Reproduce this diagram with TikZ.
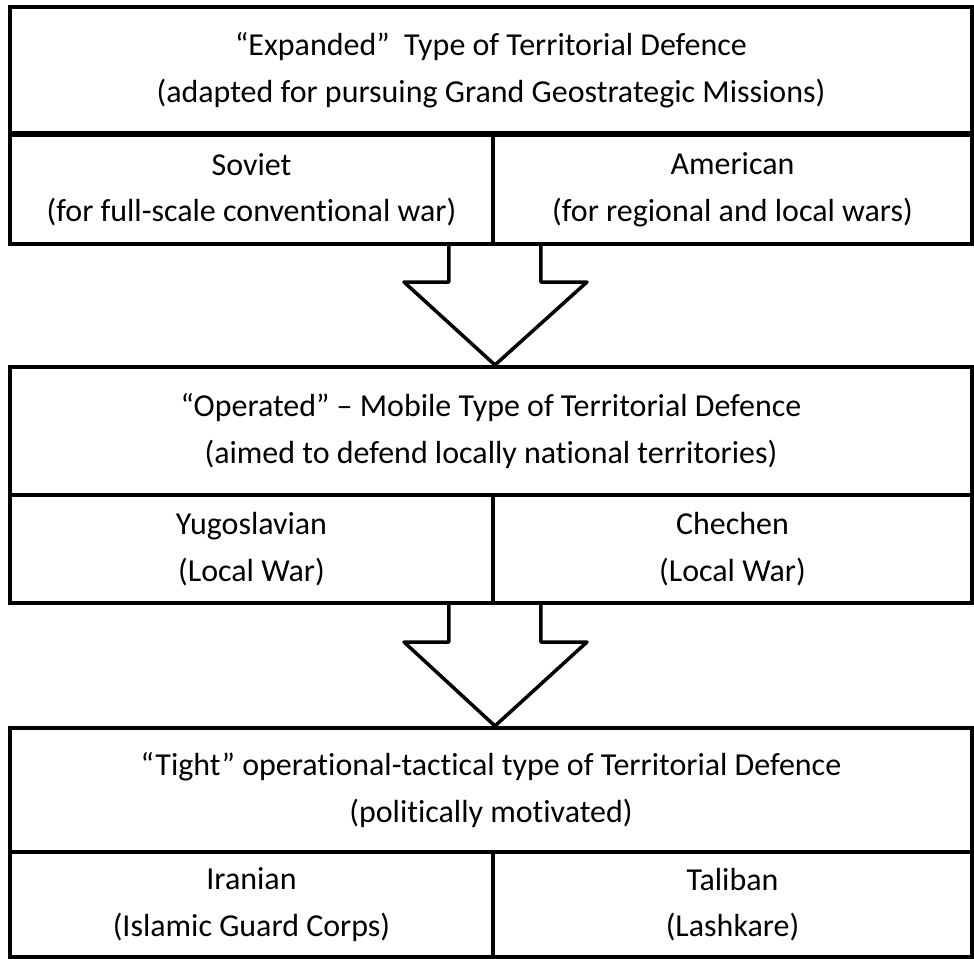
\documentclass[tikz,border=0pt]{standalone}
\usepackage{fontspec}
\setmainfont[Ligatures=NoCommon]{Carlito}
\usetikzlibrary{calc}
\tikzstyle{panel}=[
        draw=black,
        line width=2.3pt,
        align=center,
        inner sep=0pt,
        font=\fontsize{18.2}{26.5}\selectfont
]
\tikzstyle{wide}=[
        panel,
        minimum width=19.24cm
]
\tikzstyle{bigarrow}=[
        draw=black,
        line width=2pt,
        line join=round
]

\begin{document}
\begin{tikzpicture}[x=0.02cm,y=-0.02cm]
                        \useasboundingbox (0,0) rectangle (974,959);

                        % first block
                        \node[wide, minimum height=2.52cm] (expanded) at (491,70) {``Expanded''\ \ Type of Territorial Defence\\(adapted for pursuing Grand Geostrategic Missions)};
                        \node[panel, minimum width=9.66cm, minimum height=2.18cm] (soviet) at (251.5,189.5) {Soviet\\(for full-scale conventional war)};
                        \node[panel, minimum width=9.58cm, minimum height=2.18cm] (american) at (732.5,189.5) {American\\(for regional and local wars)};

                        % second block
                        \node[wide, minimum height=2.56cm] (operated) at (491,431) {``Operated'' -- Mobile Type of Territorial Defence\\(aimed to defend locally national territories)};
                        \node[panel, minimum width=9.66cm, minimum height=2.16cm] (yugoslavian) at (251.5,549) {Yugoslavian\\(Local War)};
                        \node[panel, minimum width=9.58cm, minimum height=2.16cm] (chechen) at (732.5,549) {Chechen\\(Local War)};

                        % third block
                        \node[wide, minimum height=2.48cm] (tight) at (491,790) {``Tight'' operational-tactical type of Territorial Defence\\(politically motivated)};
                        \node[panel, minimum width=9.66cm, minimum height=2.1cm] (iranian) at (251.5,904.5) {Iranian\\(Islamic Guard Corps)};
                        \node[panel, minimum width=9.58cm, minimum height=2.1cm] (taliban) at (732.5,904.5) {Taliban\\(Lashkare)};

                        % arrows between blocks
                        \draw[bigarrow] ($(soviet.south east)+(-46,0)$) -- ++(0,36) -- ++(-45,0)
                            -- (soviet.south east |- operated.north)
                            -- ($(soviet.south east)+(92,36)$) -- ++(-46,0) -- ++(0,-36);
                        \draw[bigarrow] ($(yugoslavian.south east)+(-46,0)$) -- ++(0,37) -- ++(-45,0)
                            -- (yugoslavian.south east |- tight.north)
                            -- ($(yugoslavian.south east)+(92,37)$) -- ++(-46,0) -- ++(0,-37);

                    \end{tikzpicture}
\end{document}
